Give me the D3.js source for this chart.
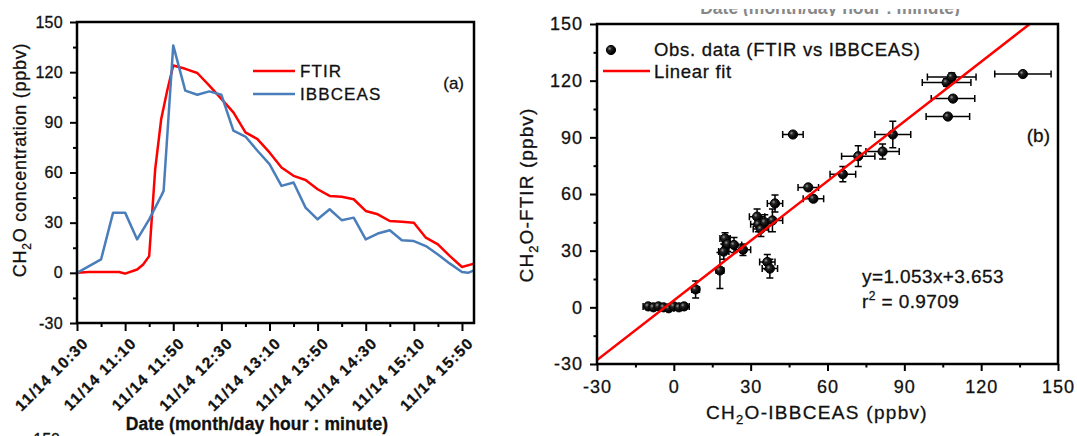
<!DOCTYPE html>
<html>
<head>
<meta charset="utf-8">
<script src="https://cdn.jsdelivr.net/npm/d3@7"></script>
<style>
body { margin: 0; background: #fff; }
svg { display: block; font-family: "Liberation Sans", Arial, sans-serif; }
svg text { fill: #111; stroke: #111; stroke-width: 0.3px; }
</style>
</head>
<body>
<svg id="chart" width="1077" height="436"></svg>
<script>
// ---- panel (a) data: CH2O time series ----
var tickDate = "11/14";
var ftirTimes = ["10:30","10:40","10:50","11:00","11:05","11:10","11:20","11:25","11:30","11:35","11:40","11:45","11:50",
    "12:00","12:10","12:20","12:30","12:40","12:50","13:00","13:10","13:20","13:30","13:40","13:50","14:00","14:10",
    "14:20","14:30","14:40","14:50","15:00","15:10","15:20","15:30","15:40","15:50","16:00"];
var ftirValues = [0, 0.5, 0.5, 0.5, 0.5, -0.5, 2, 5, 10, 62, 92, 109, 124,
    122, 119.5, 112, 104, 96, 84, 80, 72, 63, 58, 55.5, 50, 46, 45.5,
    44, 37, 35, 31, 30.5, 30, 21, 17, 10, 3.5, 5.5];
var ibbTimes = ["10:30","10:50","11:00","11:10","11:20","11:30","11:40","11:42","11:50","12:00","12:10","12:20","12:30",
    "12:40","12:50","13:00","13:10","13:20","13:30","13:40","13:50","14:00","14:10","14:20","14:30","14:40","14:50",
    "15:00","15:10","15:20","15:30","15:40","15:50","15:55","16:00"];
var ibbValues = [0, 8, 36, 36, 20, 32, 46, 49, 136, 109, 106.5, 108.5, 106.5,
    85, 81.5, 73, 65, 52, 54, 39, 32, 38, 31.5, 33, 20, 23.5, 25.5,
    19.5, 19, 16, 11, 5.5, 0.5, 0, 1.5];
var timeTicks = ["10:30","11:10","11:50","12:30","13:10","13:50","14:30","15:10","15:50"];
var concTicks = [-30, 0, 30, 60, 90, 120, 150];

// ---- panel (b) data: FTIR vs IBBCEAS ----
var obsIbb  = [-10, -8, -6, -4, -2, 0, 2, 4, 8.5, 18, 19.5, 20, 21, 23.5, 27, 32.5, 33, 34, 35.5, 38.5, 39.5,
    36.5, 37.5, 46.5, 52.5, 54.5, 66, 72, 81.5, 85.5, 107, 109, 106.5, 108.5, 136.3];
var obsFtir = [0.5, 0, 0.5, 0, -0.5, 0.5, 0, 0.5, 9.5, 19.5, 29.5, 36.5, 33.5, 33, 30.5, 48, 44, 41.5, 45, 46, 55,
    24, 20.5, 91.5, 63.5, 57.5, 70.5, 80, 82.5, 91.5, 101, 110.5, 119, 122, 123.5];
var errIbb  = [2, 2, 2, 2, 2, 2, 2, 2, 1.5, 1.5, 2, 2, 2, 3, 3, 3, 3, 3, 3, 4, 3,
    3, 3, 4, 4, 4, 5, 6.5, 6.5, 7, 8.5, 8.5, 9.5, 9.5, 11];
var errFtir = [1, 1, 1, 1, 1, 1, 1, 1, 4.5, 9.5, 4, 3, 4, 4, 3, 4, 4, 4, 4, 6, 4.5,
    4, 5, 1, 1, 1.5, 4, 5.5, 4, 7, 1, 1, 2, 2, 1];
var fitSlope = 1.053;
var fitIntercept = 3.653;
var fitR2 = "0.9709";
var scatterTicks = [-30, 0, 30, 60, 90, 120, 150];

var ftirColor = "#ff0000";
var ibbColor = "#4a7ebb";

var svg = d3.select("#chart");
var defs = svg.append("defs");

var grad = defs.append("radialGradient").attr("id", "ball")
    .attr("cx", "35%").attr("cy", "35%").attr("r", "60%");
grad.append("stop").attr("offset", "0%").attr("stop-color", "#9a9a9a");
grad.append("stop").attr("offset", "35%").attr("stop-color", "#222");
grad.append("stop").attr("offset", "100%").attr("stop-color", "#000");

// plain hyphen for negative numbers, like the original figure
var plainNum = d => String(d);

function styleAxis(g, size, spacing) {
    g.select(".domain").remove();
    g.selectAll("line").attr("stroke", "#000").attr("stroke-width", 2);
    g.selectAll("text")
        .attr("font-size", size)
        .attr("letter-spacing", spacing)
        .attr("font-family", "Liberation Sans, Arial, sans-serif");
}

function minorAxis(axis, values, size) {
    return axis.tickValues(values).tickSize(size).tickFormat("");
}

// =============== panel (a) ===============
var boxA = { left: 77, right: 474, top: 22, bottom: 323 };
var parseTime = d3.timeParse("%H:%M");
var fmtTime = d3.timeFormat("%H:%M");

var xA = d3.scaleTime()
    .domain([parseTime("10:30"), parseTime("16:00")])
    .range([boxA.left, boxA.right]);
var yA = d3.scaleLinear()
    .domain([-30, 150])
    .range([boxA.bottom, boxA.top]);

var lineA = d3.line()
    .x(d => xA(d[0]))
    .y(d => yA(d[1]));

svg.append("path")
    .datum(d3.zip(ftirTimes.map(parseTime), ftirValues))
    .attr("d", lineA)
    .attr("fill", "none")
    .attr("stroke", ftirColor)
    .attr("stroke-width", 2.5)
    .attr("stroke-linejoin", "round");

svg.append("path")
    .datum(d3.zip(ibbTimes.map(parseTime), ibbValues))
    .attr("d", lineA)
    .attr("fill", "none")
    .attr("stroke", ibbColor)
    .attr("stroke-width", 2.5)
    .attr("stroke-linejoin", "round");

// minor ticks every 20 min between the 40 min majors
var minorTimes = d3.range(20, 330, 40).map(m => d3.timeMinute.offset(xA.domain()[0], m));

svg.append("g")
    .attr("transform", "translate(0," + boxA.bottom + ")")
    .call(minorAxis(d3.axisBottom(xA), minorTimes, 4))
    .call(g => styleAxis(g, 0, 0));

svg.append("g")
    .attr("transform", "translate(0," + boxA.bottom + ")")
    .call(d3.axisBottom(xA)
        .tickValues(timeTicks.map(parseTime))
        .tickSize(8)
        .tickFormat(d => tickDate + " " + fmtTime(d)))
    .call(g => styleAxis(g, 15.5, 1.3))
    .call(g => g.selectAll("text")
        .attr("x", 0).attr("y", 0).attr("dy", 0)
        .attr("font-weight", "bold")
        .attr("text-anchor", "end")
        .attr("transform", "translate(12,21) rotate(-45)"));

svg.append("g")
    .attr("transform", "translate(" + boxA.left + ",0)")
    .call(minorAxis(d3.axisLeft(yA), d3.range(-15, 150, 30), 4))
    .call(g => styleAxis(g, 0, 0));

svg.append("g")
    .attr("transform", "translate(" + boxA.left + ",0)")
    .call(d3.axisLeft(yA).tickValues(concTicks).tickFormat(plainNum).tickSize(7).tickPadding(7))
    .call(g => styleAxis(g, 16, 0.3));

svg.append("rect")
    .attr("x", boxA.left).attr("y", boxA.top)
    .attr("width", boxA.right - boxA.left)
    .attr("height", boxA.bottom - boxA.top)
    .attr("fill", "none")
    .attr("stroke", "#000")
    .attr("stroke-width", 2.5);

// axis titles (a)
var yTitleA = svg.append("text")
    .attr("transform", "translate(26,160) rotate(-90)")
    .attr("text-anchor", "middle")
    .attr("font-size", 18)
    .attr("letter-spacing", 0.75);
yTitleA.append("tspan").text("CH");
yTitleA.append("tspan").attr("font-size", 12).attr("dy", 5).text("2");
yTitleA.append("tspan").attr("dy", -5).text("O concentration (ppbv)");

svg.append("text")
    .attr("x", 257).attr("y", 430)
    .attr("text-anchor", "middle")
    .attr("font-size", 17.5)
    .attr("font-weight", "bold")
    .attr("letter-spacing", 0.1)
    .text("Date (month/day hour : minute)");

// legend (a)
var legendA = [["FTIR", ftirColor, 71], ["IBBCEAS", ibbColor, 94]];
legendA.forEach(function (d) {
    svg.append("line")
        .attr("x1", 253).attr("x2", 295)
        .attr("y1", d[2]).attr("y2", d[2])
        .attr("stroke", d[1])
        .attr("stroke-width", 2.5);
    svg.append("text")
        .attr("x", 300).attr("y", d[2] + 6)
        .attr("font-size", 17)
        .attr("letter-spacing", 1.1)
        .text(d[0]);
});

svg.append("text")
    .attr("x", 464).attr("y", 89)
    .attr("text-anchor", "end")
    .attr("font-size", 17)
    .text("(a)");

// =============== panel (b) ===============
var boxB = { left: 597, right: 1058, top: 24, bottom: 364 };
var xB = d3.scaleLinear().domain([-30, 150]).range([boxB.left, boxB.right]);
var yB = d3.scaleLinear().domain([-30, 150]).range([boxB.bottom, boxB.top]);

defs.append("clipPath").attr("id", "clipB")
    .append("rect")
    .attr("x", boxB.left).attr("y", boxB.top)
    .attr("width", boxB.right - boxB.left)
    .attr("height", boxB.bottom - boxB.top);

var points = obsIbb.map((x, i) => ({ x: x, y: obsFtir[i], ex: errIbb[i], ey: errFtir[i] }));

var errG = svg.append("g")
    .attr("stroke", "#000")
    .attr("stroke-width", 1.5)
    .attr("fill", "none");
var cap = 3.5;
points.forEach(function (p) {
    var cx = xB(p.x), cy = yB(p.y);
    var x0 = xB(p.x - p.ex), x1 = xB(p.x + p.ex);
    var y0 = yB(p.y - p.ey), y1 = yB(p.y + p.ey);
    errG.append("path")
        .attr("d", "M" + x0 + "," + cy + "H" + x1 +
            "M" + x0 + "," + (cy - cap) + "V" + (cy + cap) +
            "M" + x1 + "," + (cy - cap) + "V" + (cy + cap) +
            "M" + cx + "," + y0 + "V" + y1 +
            "M" + (cx - cap) + "," + y0 + "H" + (cx + cap) +
            "M" + (cx - cap) + "," + y1 + "H" + (cx + cap));
});

svg.append("g")
    .selectAll("circle")
    .data(points)
    .join("circle")
    .attr("cx", d => xB(d.x))
    .attr("cy", d => yB(d.y))
    .attr("r", 4.6)
    .attr("fill", "url(#ball)")
    .attr("stroke", "#000")
    .attr("stroke-width", 1);

svg.append("line")
    .attr("clip-path", "url(#clipB)")
    .attr("x1", xB(-30)).attr("y1", yB(fitSlope * -30 + fitIntercept))
    .attr("x2", xB(150)).attr("y2", yB(fitSlope * 150 + fitIntercept))
    .attr("stroke", ftirColor)
    .attr("stroke-width", 2.5);

svg.append("g")
    .attr("transform", "translate(0," + boxB.bottom + ")")
    .call(minorAxis(d3.axisBottom(xB), d3.range(-15, 150, 30), 3.5))
    .call(g => styleAxis(g, 0, 0));

svg.append("g")
    .attr("transform", "translate(0," + boxB.bottom + ")")
    .call(d3.axisBottom(xB).tickValues(scatterTicks).tickFormat(plainNum).tickSize(7).tickPadding(9))
    .call(g => styleAxis(g, 18, 1));

svg.append("g")
    .attr("transform", "translate(" + boxB.left + ",0)")
    .call(minorAxis(d3.axisLeft(yB), d3.range(-15, 150, 30), 3.5))
    .call(g => styleAxis(g, 0, 0));

svg.append("g")
    .attr("transform", "translate(" + boxB.left + ",0)")
    .call(d3.axisLeft(yB).tickValues(scatterTicks).tickFormat(plainNum).tickSize(7).tickPadding(7))
    .call(g => styleAxis(g, 18, 1));

svg.append("rect")
    .attr("x", boxB.left).attr("y", boxB.top)
    .attr("width", boxB.right - boxB.left)
    .attr("height", boxB.bottom - boxB.top)
    .attr("fill", "none")
    .attr("stroke", "#000")
    .attr("stroke-width", 2.5);

// axis titles (b)
var yTitleB = svg.append("text")
    .attr("transform", "translate(533,195) rotate(-90)")
    .attr("text-anchor", "middle")
    .attr("font-size", 19)
    .attr("letter-spacing", 1.1);
yTitleB.append("tspan").text("CH");
yTitleB.append("tspan").attr("font-size", 13).attr("dy", 5).text("2");
yTitleB.append("tspan").attr("dy", -5).text("O-FTIR (ppbv)");

var xTitleB = svg.append("text")
    .attr("x", 817).attr("y", 419)
    .attr("text-anchor", "middle")
    .attr("font-size", 19)
    .attr("letter-spacing", 1.3);
xTitleB.append("tspan").text("CH");
xTitleB.append("tspan").attr("font-size", 13).attr("dy", 5).text("2");
xTitleB.append("tspan").attr("dy", -5).text("O-IBBCEAS (ppbv)");

// legend (b)
svg.append("circle")
    .attr("cx", 611).attr("cy", 50)
    .attr("r", 4.6)
    .attr("fill", "url(#ball)")
    .attr("stroke", "#000")
    .attr("stroke-width", 1);
svg.append("text")
    .attr("x", 654).attr("y", 56)
    .attr("font-size", 18.5)
    .attr("letter-spacing", 0.7)
    .text("Obs. data (FTIR vs IBBCEAS)");
svg.append("line")
    .attr("x1", 603).attr("x2", 650)
    .attr("y1", 71).attr("y2", 71)
    .attr("stroke", ftirColor)
    .attr("stroke-width", 2.5);
svg.append("text")
    .attr("x", 654).attr("y", 78)
    .attr("font-size", 18.5)
    .attr("letter-spacing", 0.7)
    .text("Linear fit");

svg.append("text")
    .attr("x", 1050).attr("y", 142)
    .attr("text-anchor", "end")
    .attr("font-size", 19)
    .text("(b)");

svg.append("text")
    .attr("x", 862).attr("y", 283)
    .attr("font-size", 19)
    .attr("letter-spacing", 0.4)
    .text("y=" + fitSlope + "x+" + fitIntercept);

var r2 = svg.append("text")
    .attr("x", 862).attr("y", 308)
    .attr("font-size", 19)
    .attr("letter-spacing", 0.4);
r2.append("tspan").text("r");
r2.append("tspan").attr("font-size", 12).attr("dy", -8).text("2");
r2.append("tspan").attr("dy", 8).text(" = " + fitR2);

// cropped remnants at the picture edges (cut off in the original too)
defs.append("clipPath").attr("id", "clipTop")
    .append("rect").attr("x", 650).attr("y", 9).attr("width", 350).attr("height", 7);
svg.append("text")
    .attr("clip-path", "url(#clipTop)")
    .attr("x", 830).attr("y", 14)
    .attr("text-anchor", "middle")
    .attr("font-size", 17.5)
    .attr("font-weight", "bold")
    .style("fill", "#888").style("stroke", "none")
    .text("Date (month/day hour : minute)");

svg.append("text")
    .attr("x", 60).attr("y", 445)
    .attr("text-anchor", "end")
    .attr("font-size", 16)
    .text("150");
</script>
</body>
</html>
